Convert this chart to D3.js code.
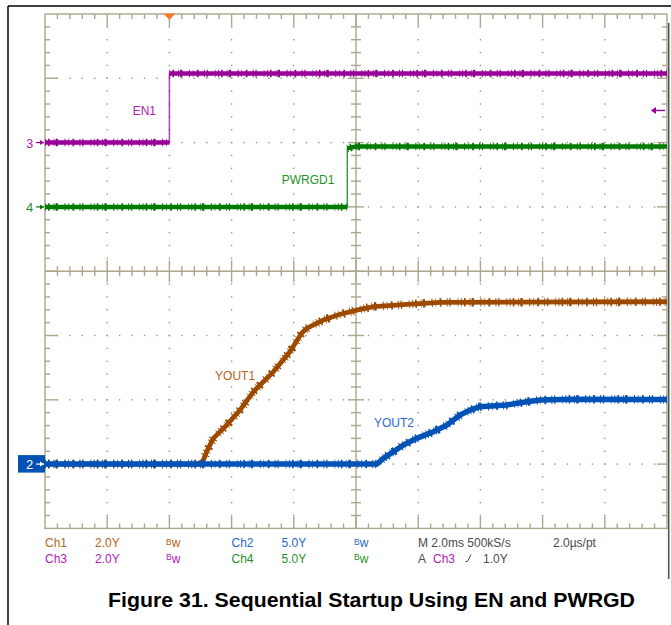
<!DOCTYPE html>
<html>
<head>
<meta charset="utf-8">
<script src="https://cdn.jsdelivr.net/npm/d3@7"></script>
<style>
  body { margin: 0; background: #fff; }
  svg { display: block; font-family: "Liberation Sans", Arial, sans-serif; }
</style>
</head>
<body>
<svg width="671" height="625"></svg>
<script>
// scope: 2.0 ms/div, trigger 2 div from the left edge
const timeDomain = [-4, 16];      // ms
const divDomain = [-4, 4];        // vertical divisions

// channel setup (V/div, ground marker position in divisions)
const chNames = ["Ch1", "Ch2", "Ch3", "Ch4"];
const chVoltsPerDiv = [2.0, 5.0, 2.0, 5.0];
const chGroundDiv = [-3, -3, 2, 1];
const chColors = ["#9c4a00", "#0052b4", "#990099", "#007a00"];
const chTextColors = ["#b5651d", "#2a68cc", "#b020b0", "#1f931f"];

// Ch3 - EN1
const enTime = [-4, 0, 0, 16];
const enVolts = [0, 0, 2.15, 2.15];

// Ch4 - PWRGD1
const pwrgdTime = [-4, 5.72, 5.72, 6.0, 16];
const pwrgdVolts = [0, 0, 4.55, 4.7, 4.7];

// Ch1 - VOUT1
const vout1Time = [-4, 1.04, 1.2, 1.41, 1.84, 2.27, 2.7, 3.34, 3.88, 4.25, 4.41, 4.95, 5.49, 6.02, 6.56, 7.63, 8.7, 16];
const vout1Volts = [0, 0, 0.39, 0.8, 1.21, 1.68, 2.25, 2.87, 3.5, 4.07, 4.22, 4.48, 4.66, 4.79, 4.9, 4.97, 5.03, 5.05];

// Ch2 - VOUT2
const vout2Time = [-4, 6.67, 6.88, 7.2, 7.52, 7.95, 8.49, 8.92, 9.34, 9.67, 9.99, 10.84, 11.49, 11.92, 12.99, 16];
const vout2Volts = [0, 0, 0.44, 0.96, 1.48, 2.0, 2.52, 3.03, 3.81, 4.2, 4.46, 4.59, 4.85, 4.98, 5.05, 5.03];

// trigger
const trigTime = 0;
const trigLevel = 1.0;   // V on Ch3

const svg = d3.select("svg");
const gridColor = "#aca68b";
const dotColor = "#9d977c";

const x = d3.scaleLinear().domain(timeDomain).range([45, 667]);
const y = d3.scaleLinear().domain(divDomain).range([528.4, 14]);

// outer frame of the figure
svg.append("line").attr("x1", 8).attr("x2", 671).attr("y1", 6).attr("y2", 6)
    .attr("stroke", "#000").attr("stroke-width", 1.5);
svg.append("line").attr("x1", 8).attr("x2", 8).attr("y1", 6).attr("y2", 625)
    .attr("stroke", "#000").attr("stroke-width", 1.5);
svg.append("line").attr("x1", 668.7).attr("x2", 668.7).attr("y1", 23).attr("y2", 579)
    .attr("stroke", "#555").attr("stroke-width", 1.6);

// graticule
const grid = svg.append("g");
const majorT = d3.range(timeDomain[0], timeDomain[1] + 0.01, 2);
const majorD = d3.range(divDomain[0], divDomain[1] + 0.01, 1);
const minorT = d3.range(timeDomain[0], timeDomain[1] + 0.01, 0.4);
const minorD = d3.range(divDomain[0], divDomain[1] + 0.01, 0.2);
const isMajorT = t => Math.abs(t / 2 - Math.round(t / 2)) < 1e-6;
const isMajorD = d => Math.abs(d - Math.round(d)) < 1e-6;

// dotted lines on the inner major divisions
majorT.slice(1, -1).filter(t => t !== 6).forEach(t => {
    grid.selectAll(null).data(minorD.slice(1, -1)).enter().append("rect")
        .attr("x", x(t) - 0.7).attr("y", d => y(d) - 0.7)
        .attr("width", 1.4).attr("height", 1.4).attr("fill", dotColor);
});
majorD.slice(1, -1).filter(d => d !== 0).forEach(d => {
    grid.selectAll(null).data(minorT.slice(1, -1)).enter().append("rect")
        .attr("x", t => x(t) - 0.7).attr("y", y(d) - 0.7)
        .attr("width", 1.4).attr("height", 1.4).attr("fill", dotColor);
});

// border
grid.append("rect")
    .attr("x", x(timeDomain[0])).attr("y", y(divDomain[1]))
    .attr("width", x(timeDomain[1]) - x(timeDomain[0]))
    .attr("height", y(divDomain[0]) - y(divDomain[1]))
    .attr("fill", "none").attr("stroke", gridColor).attr("stroke-width", 1.4);

// centre cross
grid.append("line").attr("x1", x(6)).attr("x2", x(6)).attr("y1", y(4)).attr("y2", y(-4))
    .attr("stroke", gridColor).attr("stroke-width", 1.4);
grid.append("line").attr("x1", x(-4)).attr("x2", x(16)).attr("y1", y(0)).attr("y2", y(0))
    .attr("stroke", gridColor).attr("stroke-width", 1.4);

const tick = (x1, y1, x2, y2) => grid.append("line")
    .attr("x1", x1).attr("y1", y1).attr("x2", x2).attr("y2", y2)
    .attr("stroke", gridColor).attr("stroke-width", 1.4);

minorT.slice(1, -1).forEach(t => {
    const m = isMajorT(t);
    tick(x(t), y(4), x(t), y(4) + (m ? 13 : 5));
    tick(x(t), y(-4), x(t), y(-4) - (m ? 12 : 5));
    tick(x(t), y(0) - (m ? 11 : 5), x(t), y(0) + (m ? 11 : 5));
});
minorD.slice(1, -1).forEach(d => {
    const m = isMajorD(d);
    tick(x(-4), y(d), x(-4) + (m ? 13 : 5), y(d));
    tick(x(16), y(d), x(16) - (m ? 10 : 5), y(d));
    tick(x(6) - (m ? 8 : 5), y(d), x(6) + (m ? 8 : 5), y(d));
});

// traces
const traces = svg.append("g");
const noiseDash = "0.8 2.2 1.6 4 0.7 1.3 2.4 6.5 1 2.8 0.6 3.6 1.8 5.2 0.9 1.9 1.2 7 0.7 2.6";
function drawTrace(times, volts, ch, core, noise) {
    const pts = times.map((t, i) => [x(t), y(chGroundDiv[ch] + volts[i] / chVoltsPerDiv[ch])]);
    const line = d3.line();
    // thin full trace (shows the fast edges)
    traces.append("path").attr("d", line(pts))
        .attr("fill", "none").attr("stroke", chColors[ch])
        .attr("stroke-width", 1.5).attr("stroke-opacity", 0.75);
    // thick trace on the slow parts, split at vertical edges
    const runs = [[pts[0]]];
    for (let i = 1; i < pts.length; i++) {
        if (times[i] === times[i - 1]) runs.push([pts[i]]);
        else runs[runs.length - 1].push(pts[i]);
    }
    runs.filter(r => r.length > 1).forEach(r => {
        traces.append("path").attr("d", line(r))
            .attr("fill", "none").attr("stroke", chColors[ch])
            .attr("stroke-width", noise)
            .attr("stroke-dasharray", noiseDash);
        traces.append("path").attr("d", line(r))
            .attr("fill", "none").attr("stroke", chColors[ch])
            .attr("stroke-width", core);
    });
}
drawTrace(enTime, enVolts, 2, 4.5, 7.5);
drawTrace(pwrgdTime, pwrgdVolts, 3, 4.5, 7.5);
drawTrace(vout1Time, vout1Volts, 0, 4.8, 8.5);
drawTrace(vout2Time, vout2Volts, 1, 5.5, 8.5);

// trace labels (time ms, divisions)
const labels = [
    { text: "EN1", t: -1.18, d: 2.43, ch: 2 },
    { text: "PWRGD1", t: 3.61, d: 1.356, ch: 3 },
    { text: "YOUT1", t: 1.47, d: -1.69, ch: 0 },
    { text: "YOUT2", t: 6.58, d: -2.42, ch: 1 }
];
svg.append("g").selectAll("text").data(labels).enter().append("text")
    .attr("x", d => x(d.t)).attr("y", d => y(d.d))
    .attr("font-size", 12).attr("fill", d => chTextColors[d.ch])
    .text(d => d.text);

// ground markers on the left
const markers = svg.append("g");
[2, 3].forEach(ch => {
    const gy = y(chGroundDiv[ch]);
    markers.append("text").attr("x", 29.5).attr("y", gy + 5)
        .attr("text-anchor", "middle").attr("font-size", 13)
        .attr("fill", chTextColors[ch]).text(String(ch + 1));
    markers.append("line").attr("x1", 36).attr("x2", 44).attr("y1", gy).attr("y2", gy)
        .attr("stroke", chColors[ch]).attr("stroke-width", 1.2);
    markers.append("path").attr("d", `M44,${gy} l-4,-2.5 v5 z`).attr("fill", chColors[ch]);
});
{
    const gy = y(chGroundDiv[1]);
    markers.append("rect").attr("x", 18).attr("y", gy - 9).attr("width", 27).attr("height", 17.5)
        .attr("fill", chColors[1]);
    markers.append("text").attr("x", 29.5).attr("y", gy + 5)
        .attr("text-anchor", "middle").attr("font-size", 13)
        .attr("fill", "#fff").text("2");
    markers.append("line").attr("x1", 36).attr("x2", 44).attr("y1", gy).attr("y2", gy)
        .attr("stroke", "#fff").attr("stroke-width", 1.2);
    markers.append("path").attr("d", `M44,${gy} l-4,-2.5 v5 z`).attr("fill", "#fff");
}

// trigger level arrow (right) and trigger position (top)
{
    const ty = y(chGroundDiv[2] + trigLevel / chVoltsPerDiv[2]);
    markers.append("line").attr("x1", 652).attr("x2", 665).attr("y1", ty).attr("y2", ty)
        .attr("stroke", chColors[2]).attr("stroke-width", 1.4);
    markers.append("path").attr("d", `M651,${ty} l5,-3.5 v7 z`).attr("fill", chColors[2]);
    const tx = x(trigTime);
    markers.append("path").attr("d", `M${tx - 6},13.5 h12 l-6,6.5 z`).attr("fill", "#f7782a");
}

// readouts
const info = svg.append("g").attr("font-size", 12);
const row1 = 547, row2 = 562.5;
function readout(xp, yp, str, color) {
    info.append("text").attr("x", xp).attr("y", yp).attr("fill", color).text(str);
}
function bw(xp, yp, color) {
    const t = info.append("text").attr("x", xp).attr("y", yp).attr("fill", color);
    t.append("tspan").attr("font-size", 8.5).attr("dy", -2.5).text("B");
    t.append("tspan").attr("dy", 2.5).text("w");
}
readout(45, row1, chNames[0], chTextColors[0]);
readout(95, row1, chVoltsPerDiv[0].toFixed(1) + "Y", chTextColors[0]);
bw(166, row1, chTextColors[0]);
readout(231.5, row1, chNames[1], chTextColors[1]);
readout(281.5, row1, chVoltsPerDiv[1].toFixed(1) + "Y", chTextColors[1]);
bw(354, row1, chTextColors[1]);
readout(418, row1, "M 2.0ms 500kS/s", "#4a4a4a");
readout(553, row1, "2.0µs/pt", "#4a4a4a");

readout(45, row2, chNames[2], chTextColors[2]);
readout(95, row2, chVoltsPerDiv[2].toFixed(1) + "Y", chTextColors[2]);
bw(166, row2, chTextColors[2]);
readout(231.5, row2, chNames[3], chTextColors[3]);
readout(281.5, row2, chVoltsPerDiv[3].toFixed(1) + "Y", chTextColors[3]);
bw(354, row2, chTextColors[3]);
readout(418, row2, "A", "#4a4a4a");
readout(433, row2, chNames[2], chTextColors[2]);
info.append("path").attr("d", `M465.5,${row2 - 1} h2 l3.5,-7`)
    .attr("fill", "none").attr("stroke", "#4a4a4a").attr("stroke-width", 1);
readout(483, row2, trigLevel.toFixed(1) + "Y", "#4a4a4a");

// caption
svg.append("text").attr("x", 108).attr("y", 606.5)
    .attr("font-size", 21).attr("font-weight", "bold").attr("fill", "#000")
    .attr("textLength", 527).attr("lengthAdjust", "spacingAndGlyphs")
    .text("Figure 31. Sequential Startup Using EN and PWRGD");
</script>
</body>
</html>
